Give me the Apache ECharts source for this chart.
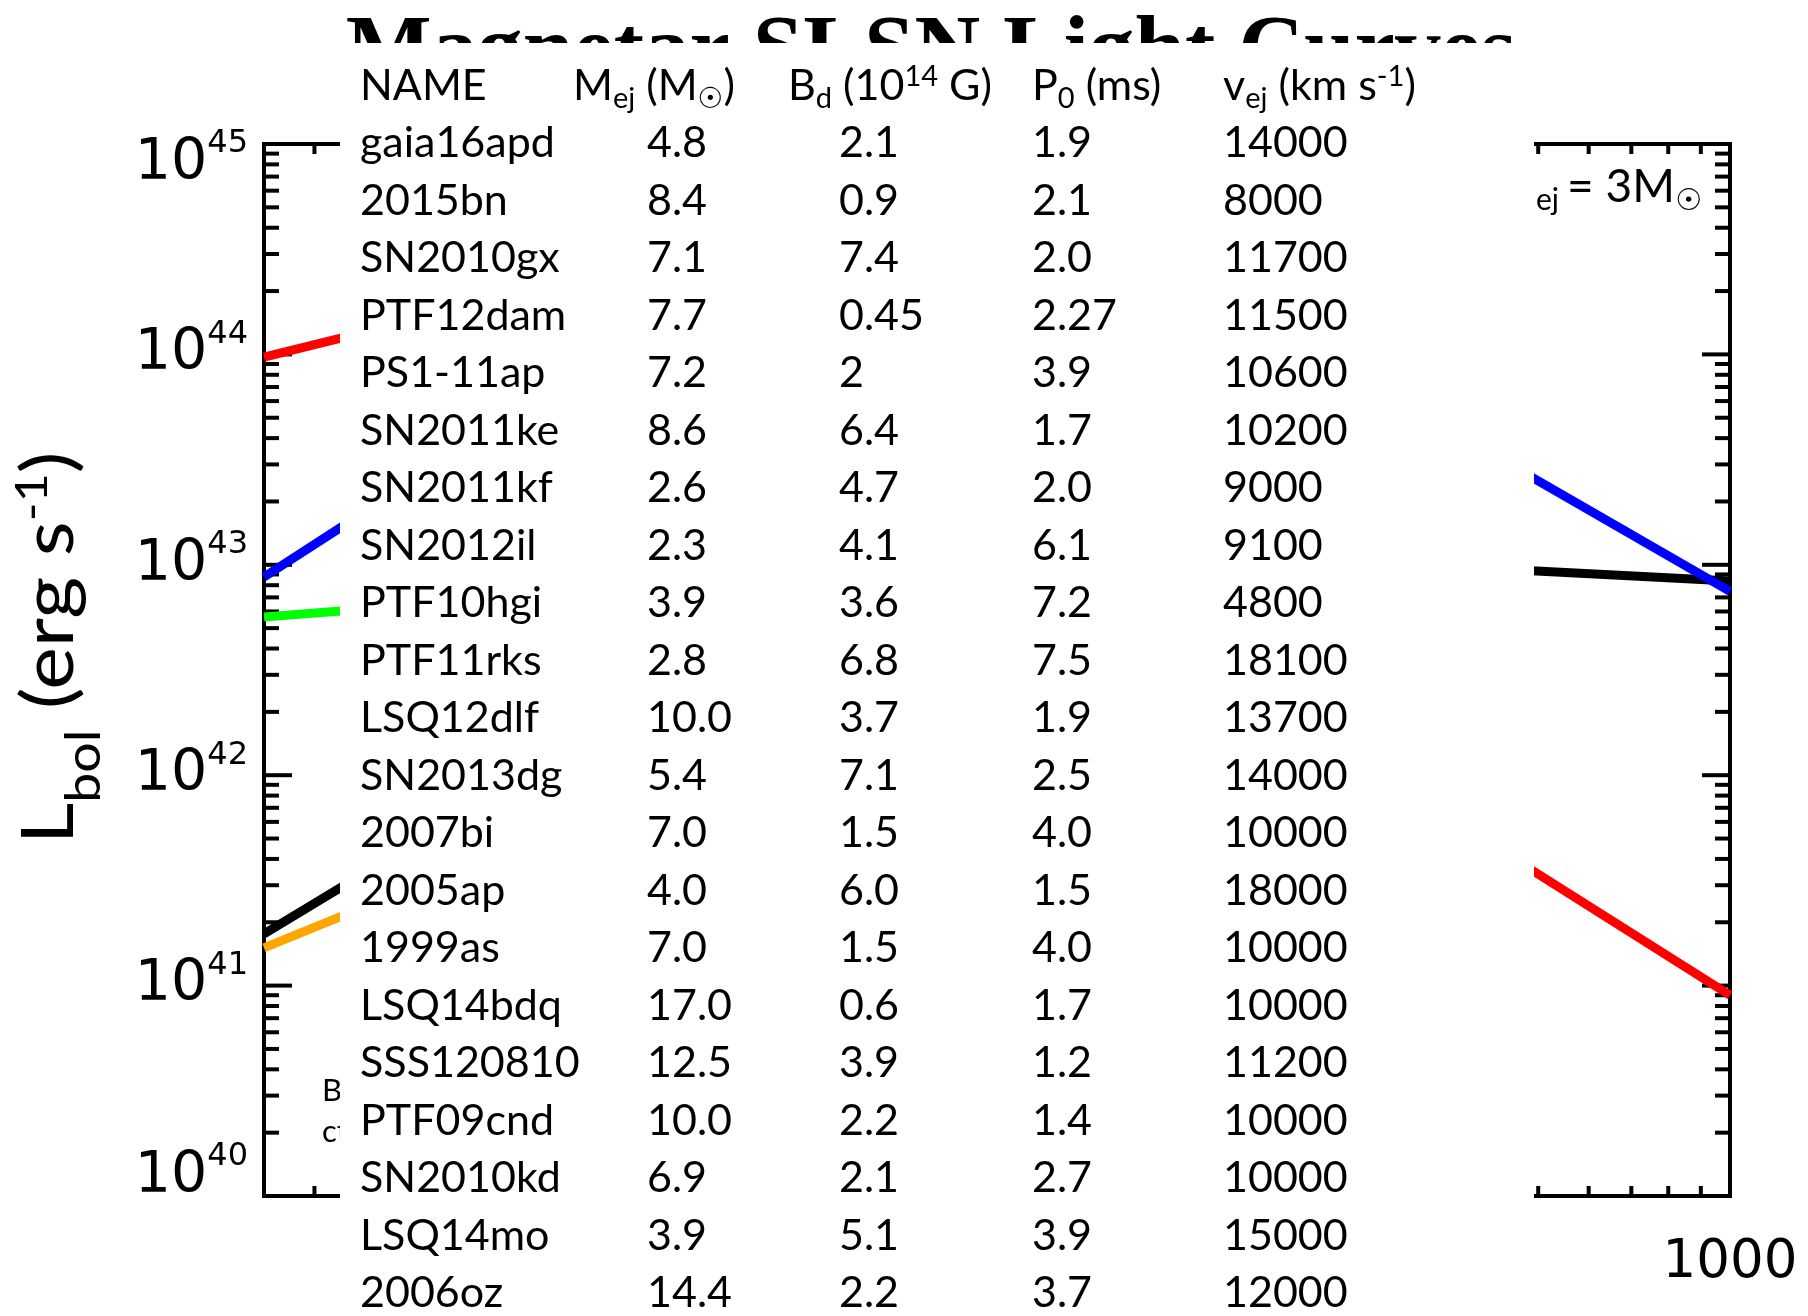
<!DOCTYPE html>
<html>
<head>
<meta charset="utf-8">
<title>Magnetar SLSN Light Curves</title>
<script src="https://cdn.jsdelivr.net/npm/echarts@6/dist/echarts.min.js"></script>
<style>
  html, body { margin: 0; padding: 0; background: #fff; }
  #chart { width: 1808px; height: 1316px; }
</style>
</head>
<body>
<div id="chart"></div>
<script>
// ---- Light-curve segments: [time (days), L_bol (erg/s)] ----
const redEarly    = [[5, 9.7e43],  [7, 1.25e44]];
const redLate     = [[480, 3.66e41], [1000, 9.0e40]];
const blueEarly   = [[5, 8.75e42], [7, 1.69e43]];
const blueLate    = [[480, 2.69e43], [1000, 7.48e42]];
const greenEarly  = [[5, 5.65e42], [7, 6.12e42]];
const blackEarly  = [[5, 1.76e41], [7, 3.26e41]];
const blackLate   = [[480, 9.4e42], [1000, 8.37e42]];
const orangeEarly = [[5, 1.51e41], [7, 2.29e41]];

// ---- Axis ranges and tick values ----
const X_MIN = 5, X_MAX = 1000;
const Y_MIN = 1e40, Y_MAX = 1e45;
const yMajorTicks = [1e40, 1e41, 1e42, 1e43, 1e44, 1e45];
const yMinorMantissas = [2, 3, 4, 5, 6, 7, 8, 9];
const xMajorTicks = [10, 100];
const xMinorTicks = [6, 7, 8, 9, 20, 30, 40, 50, 60, 70, 80, 90, 200, 300, 400, 500, 600, 700, 800, 900];
const yTickExponents = [40, 41, 42, 43, 44, 45];

// ---- Magnetar fit parameters ----
const snNames    = ['gaia16apd', '2015bn', 'SN2010gx', 'PTF12dam', 'PS1-11ap', 'SN2011ke', 'SN2011kf', 'SN2012il', 'PTF10hgi', 'PTF11rks', 'LSQ12dlf', 'SN2013dg', '2007bi', '2005ap', '1999as', 'LSQ14bdq', 'SSS120810', 'PTF09cnd', 'SN2010kd', 'LSQ14mo', '2006oz'];
const ejectaMass = ['4.8', '8.4', '7.1', '7.7', '7.2', '8.6', '2.6', '2.3', '3.9', '2.8', '10.0', '5.4', '7.0', '4.0', '7.0', '17.0', '12.5', '10.0', '6.9', '3.9', '14.4'];
const fieldB     = ['2.1', '0.9', '7.4', '0.45', '2', '6.4', '4.7', '4.1', '3.6', '6.8', '3.7', '7.1', '1.5', '6.0', '1.5', '0.6', '3.9', '2.2', '2.1', '5.1', '2.2'];
const spinP0     = ['1.9', '2.1', '2.0', '2.27', '3.9', '1.7', '2.0', '6.1', '7.2', '7.5', '1.9', '2.5', '4.0', '1.5', '4.0', '1.7', '1.2', '1.4', '2.7', '3.9', '3.7'];
const ejectaVel  = ['14000', '8000', '11700', '11500', '10600', '10200', '9000', '9100', '4800', '18100', '13700', '14000', '10000', '18000', '10000', '10000', '11200', '10000', '10000', '15000', '12000'];
const tableHeaders = [
  '{m|NAME}',
  '{m|M}{sub|ej}{m| (M}{sub|☉}{m|)}',
  '{m|B}{sub|d}{m| (10}{sup|14}{m| G)}',
  '{m|P}{sub|0}{m| (ms)}',
  '{m|v}{sub|ej}{m| (km s}{sup|-1}{m|)}'
];

const yMinorTicks = [];
yMajorTicks.slice(0, -1).forEach(d => yMinorMantissas.forEach(m => yMinorTicks.push(m * d)));

const SANS = 'Lato, "DejaVu Sans", sans-serif';
const AXIS_FONT = '"DejaVu Sans", "Liberation Sans", sans-serif';
const INK = '#000';

function lineSeries(name, data, color) {
  return {
    name, type: 'line', data, symbol: 'none', silent: true,
    lineStyle: { color, width: 9, cap: 'butt' }
  };
}

// Tick marks on all four sides, drawn through the axis scales
const yTickData = yMajorTicks.map(v => [X_MIN, v, 1]).concat(yMinorTicks.map(v => [X_MIN, v, 0]));
const xTickData = xMajorTicks.map(v => [v, Y_MIN, 1]).concat(xMinorTicks.map(v => [v, Y_MIN, 0]));

function tickLine(x1, y1, x2, y2) {
  return { type: 'line', shape: { x1, y1, x2, y2 }, style: { stroke: INK, lineWidth: 4 } };
}

const yTickSeries = {
  type: 'custom', name: 'yTicks', clip: false, silent: true,
  encode: { x: 0, y: 1 }, data: yTickData,
  renderItem(params, api) {
    const v = api.value(1);
    const len = api.value(2) ? 28 : 15;
    const pL = api.coord([X_MIN, v]);
    const pR = api.coord([X_MAX, v]);
    return { type: 'group', children: [
      tickLine(pL[0], pL[1], pL[0] + len, pL[1]),
      tickLine(pR[0], pR[1], pR[0] - len, pR[1])
    ] };
  }
};

const xTickSeries = {
  type: 'custom', name: 'xTicks', clip: false, silent: true,
  encode: { x: 0, y: 1 }, data: xTickData,
  renderItem(params, api) {
    const v = api.value(0);
    const len = api.value(2) ? 20 : 10;
    const pB = api.coord([v, Y_MIN]);
    const pT = api.coord([v, Y_MAX]);
    return { type: 'group', children: [
      tickLine(pB[0], pB[1], pB[0], pB[1] - len),
      tickLine(pT[0], pT[1], pT[0], pT[1] + len)
    ] };
  }
};

// Decade labels 10^n on the luminosity axis
const yLabelSeries = {
  type: 'custom', name: 'yLabels', clip: false, silent: true,
  encode: { x: 0, y: 1 }, data: yMajorTicks.map(v => [X_MIN, v]),
  renderItem(params, api) {
    const v = api.value(1);
    const p = api.coord([X_MIN, v]);
    const last = yMajorTicks.length - 1;
    // end labels sit just inside the axis span
    const dy = params.dataIndex === last ? 20 : (params.dataIndex === 0 ? -19 : 0);
    return {
      type: 'text', x: p[0] - 16, y: p[1] + dy,
      style: {
        text: '{b|10}{s|' + yTickExponents[params.dataIndex] + '}',
        align: 'right', verticalAlign: 'middle', fill: INK,
        rich: {
          b: { fontSize: 57, fontFamily: AXIS_FONT, lineHeight: 78, height: 78, verticalAlign: 'middle', fill: INK },
          s: { fontSize: 32, fontFamily: AXIS_FONT, lineHeight: 38, height: 38, verticalAlign: 'top', fill: INK }
        }
      }
    };
  }
};

// Parameter table laid over the plot
const headerX = [360, 573, 788, 1032, 1223];
const colX = [360, 647, 839, 1032, 1223];
const HEADER_Y = 86, ROW_Y0 = 143.5, ROW_STEP = 57.5;
const headRich = {
  m:   { fontSize: 43, fontFamily: SANS, lineHeight: 64, height: 64, verticalAlign: 'middle', fill: INK },
  sub: { fontSize: 29, fontFamily: SANS, lineHeight: 38, height: 38, verticalAlign: 'bottom', fill: INK },
  sup: { fontSize: 29, fontFamily: SANS, lineHeight: 46, height: 46, verticalAlign: 'top', fill: INK }
};

const tableElements = [];
tableHeaders.forEach((h, i) => {
  tableElements.push({
    type: 'text', x: headerX[i], y: HEADER_Y, z: 60,
    style: { text: h, rich: headRich, align: 'left', verticalAlign: 'middle', fill: INK }
  });
});
const columns = [snNames, ejectaMass, fieldB, spinP0, ejectaVel];
snNames.forEach((_, r) => {
  columns.forEach((col, c) => {
    tableElements.push({
      type: 'text', x: colX[c], y: ROW_Y0 + r * ROW_STEP, z: 60,
      style: { text: col[r], fontSize: 43, fontFamily: SANS, fill: INK, align: 'left', verticalAlign: 'middle' }
    });
  });
});

// Ejecta-mass annotation in the upper right corner
const massRich = {
  m:  { fontSize: 46, fontFamily: SANS, lineHeight: 60, height: 60, verticalAlign: 'middle', fill: INK },
  s:  { fontSize: 30, fontFamily: SANS, lineHeight: 34, height: 34, verticalAlign: 'bottom', fill: INK },
  se: { fontSize: 30, fontFamily: SANS, lineHeight: 34, height: 34, verticalAlign: 'bottom', fill: INK, padding: [0, 8, 0, 0] }
};

const option = {
  animation: false,
  backgroundColor: '#fff',
  title: {
    text: 'Magnetar SLSN Light Curves',
    left: 926, top: 4, textAlign: 'center',
    textStyle: { fontFamily: '"Liberation Serif", "Times New Roman", serif', fontWeight: 'bold', fontSize: 91, color: INK }
  },
  grid: {
    left: 264, top: 144, right: 78, bottom: 120,
    show: true, borderColor: INK, borderWidth: 4, backgroundColor: 'transparent',
    outerBoundsMode: 'none'
  },
  xAxis: {
    type: 'log', logBase: 10, min: X_MIN, max: X_MAX,
    axisLine: { show: false }, axisTick: { show: false },
    splitLine: { show: false }, minorTick: { show: false },
    axisLabel: {
      showMinLabel: false, margin: 41, color: INK,
      fontFamily: AXIS_FONT, fontSize: 53,
      formatter: v => String(Math.round(v))
    }
  },
  yAxis: {
    type: 'log', logBase: 10, min: Y_MIN, max: Y_MAX,
    axisLine: { show: false }, axisTick: { show: false },
    splitLine: { show: false }, minorTick: { show: false },
    axisLabel: { show: false }
  },
  series: [
    lineSeries('orange', orangeEarly, '#ffa500'),
    lineSeries('black', blackEarly, '#000000'),
    lineSeries('black', blackLate, '#000000'),
    lineSeries('green', greenEarly, '#00ff00'),
    lineSeries('blue', blueEarly, '#0000ff'),
    lineSeries('blue', blueLate, '#0000ff'),
    lineSeries('red', redEarly, '#ff0000'),
    lineSeries('red', redLate, '#ff0000'),
    yTickSeries, xTickSeries, yLabelSeries
  ],
  graphic: {
    elements: [
      {
        type: 'text', x: 50, y: 648, rotation: Math.PI / 2, scaleX: 1.12, z: 10,
        style: {
          text: '{m|L}{sub|bol}{m| (erg s}{sup|-1}{m|)}',
          align: 'center', verticalAlign: 'middle', fill: INK,
          rich: {
            m:   { fontSize: 72, fontFamily: SANS, lineHeight: 120, height: 120, verticalAlign: 'middle', fill: INK },
            sub: { fontSize: 48, fontFamily: SANS, lineHeight: 50, height: 50, verticalAlign: 'bottom', fill: INK },
            sup: { fontSize: 45, fontFamily: SANS, lineHeight: 84, height: 84, verticalAlign: 'top', fill: INK }
          }
        }
      },
      {
        type: 'text', x: 322, y: 1091, z: 10,
        style: { text: 'B', fontSize: 31, fontFamily: SANS, fill: INK, align: 'left', verticalAlign: 'middle' }
      },
      {
        type: 'text', x: 322, y: 1132, z: 10,
        style: { text: 'ct', fontSize: 31, fontFamily: SANS, fill: INK, align: 'left', verticalAlign: 'middle' }
      },
      {
        type: 'text', x: 1536, y: 187, z: 10,
        style: { text: '{m|M}', rich: massRich, align: 'right', verticalAlign: 'middle', fill: INK }
      },
      {
        type: 'text', x: 1536, y: 187, z: 10,
        style: { text: '{se|ej}{m|= 3M}{s|☉}', rich: massRich, align: 'left', verticalAlign: 'middle', fill: INK }
      },
      {
        type: 'rect', z: 50, silent: true,
        shape: { x: 340, y: 43, width: 1194, height: 1290 },
        style: { fill: '#fff' }
      }
    ].concat(tableElements)
  }
};

const chart = echarts.init(document.getElementById('chart'), null, { renderer: 'canvas' });
chart.setOption(option);
</script>
</body>
</html>
